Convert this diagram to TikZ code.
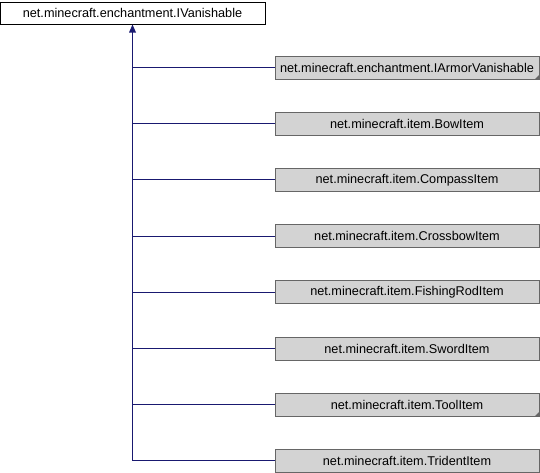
\documentclass[tikz,border=0pt]{standalone}
\usepackage{fontspec}
\setmainfont{Liberation Sans}
\usetikzlibrary{arrows.meta}
\definecolor{edgeblue}{HTML}{191970}
\definecolor{boxgray}{HTML}{D3D3D3}
\definecolor{boxborder}{HTML}{666666}
\tikzset{
  base/.style={draw=black, fill=white, line width=1pt, minimum width=265pt, minimum height=22pt, inner sep=0pt, font=\fontsize{12.7}{14}\selectfont},
  child/.style={draw=boxborder, fill=boxgray, line width=1pt, minimum width=264pt, minimum height=23pt, inner sep=0pt, font=\fontsize{12.7}{14}\selectfont},
  conn/.style={draw=edgeblue, line width=1pt},
}
\begin{document}
\begin{tikzpicture}[x=1pt,y=-1pt]
\useasboundingbox (0,0) rectangle (540,472);
\node[base] (root) at (132.5,13) {net.minecraft.enchantment.IVanishable};
\foreach \n/\t/\y in {a/net.minecraft.enchantment.IArmorVanishable/67.5,
                      b/net.minecraft.item.BowItem/123.7,
                      c/net.minecraft.item.CompassItem/179.9,
                      d/net.minecraft.item.CrossbowItem/236.1,
                      e/net.minecraft.item.FishingRodItem/292.3,
                      f/net.minecraft.item.SwordItem/348.5,
                      g/net.minecraft.item.ToolItem/404.7,
                      h/net.minecraft.item.TridentItem/460.9} {
  \node[child] (\n) at (407,\y) {\t};
  \draw[conn] (\n.west) -- (root.south |- \n.west);
}
\draw[conn] (root.south |- h.west) -- (root.south);
\fill[edgeblue] (root.south) -- ++(-3.5,8) -- ++(7,0) -- cycle;
\fill[boxborder] (a.south east) -- ++(-5,0) -- ++(5,-5) -- cycle;
\fill[boxborder] (g.south east) -- ++(-5,0) -- ++(5,-5) -- cycle;
\end{tikzpicture}
\end{document}
